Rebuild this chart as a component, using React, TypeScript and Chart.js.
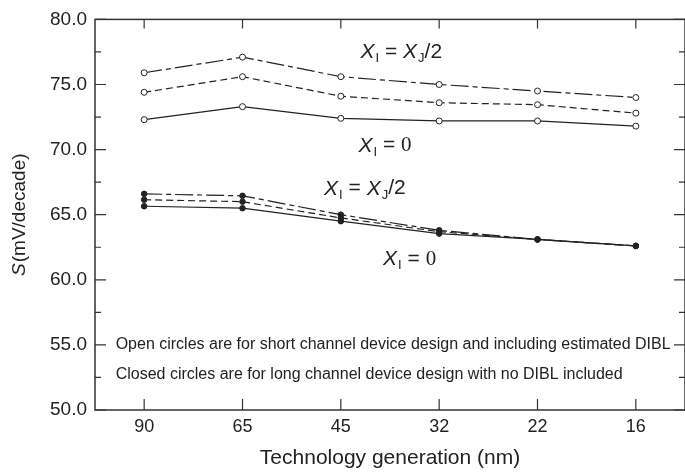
import React, { useEffect, useRef } from "react";
import { Chart, registerables } from "chart.js";

Chart.register(...registerables);

// Technology generations (nm) on the category axis
const generations = ["90", "65", "45", "32", "22", "16"];

// Short channel design, estimated DIBL included (open circles)
const shortHalf = [75.9, 77.1, 75.6, 75.0, 74.5, 74.0];
const shortQuarter = [74.4, 75.6, 74.1, 73.6, 73.45, 72.8];
const shortZero = [72.3, 73.3, 72.4, 72.2, 72.2, 71.8];

// Long channel design, no DIBL (closed circles)
const longHalf = [66.6, 66.45, 65.0, 63.8, 63.1, 62.6];
const longQuarter = [66.15, 66.0, 64.75, 63.7, 63.1, 62.6];
const longZero = [65.65, 65.5, 64.5, 63.55, 63.1, 62.6];

const yMin = 50;
const yMax = 80;
const yStep = 2.5;

const INK = "#222";
const SANS = "'Liberation Sans', Arial, Helvetica, sans-serif";
const SERIF = "'Liberation Serif', 'Times New Roman', serif";

const DASH_DOT = [18, 4, 5, 4];
const DASH = [7, 4];

type Part = { t: string; italic?: boolean; sub?: boolean; serif?: boolean };

const labelHalf: Part[] = [
  { t: "X", italic: true },
  { t: "I", sub: true },
  { t: " = " },
  { t: "X", italic: true },
  { t: "J", sub: true },
  { t: "/2" },
];
const labelZero: Part[] = [
  { t: "X", italic: true },
  { t: "I", sub: true },
  { t: " = " },
  { t: "0", serif: true },
];

// [category position, value, parts]
const curveLabels: [number, number, Part[]][] = [
  [2.2, 77.5, labelHalf],
  [2.18, 70.3, labelZero],
  [1.83, 67.0, labelHalf],
  [2.43, 61.55, labelZero],
];

const notes = [
  "Open circles are for short channel device design and including estimated DIBL",
  "Closed circles are for long channel device design with no DIBL included",
];
const noteY = [55.0, 52.75];

function drawRich(ctx: CanvasRenderingContext2D, x: number, y: number, parts: Part[], size: number) {
  let cx = x;
  ctx.textBaseline = "middle";
  ctx.textAlign = "left";
  for (const p of parts) {
    const s = p.sub ? Math.round(size * 0.62) : size;
    const fam = p.serif ? SERIF : SANS;
    ctx.font = `${p.italic ? "italic " : ""}${s}px ${fam}`;
    const dy = p.sub ? size * 0.3 : 0;
    ctx.fillText(p.t, cx, y + dy);
    cx += ctx.measureText(p.t).width + (p.italic ? 1 : 0);
  }
}

function richWidth(ctx: CanvasRenderingContext2D, parts: Part[], size: number) {
  let w = 0;
  for (const p of parts) {
    const s = p.sub ? Math.round(size * 0.62) : size;
    ctx.font = `${p.italic ? "italic " : ""}${s}px ${p.serif ? SERIF : SANS}`;
    w += ctx.measureText(p.t).width + (p.italic ? 1 : 0);
  }
  return w;
}

const framePlugin = {
  id: "frameTicks",
  beforeDatasetsDraw(chart: any) {
    const { ctx, chartArea: a, scales } = chart;
    const xs = scales.x;
    const ys = scales.y;
    ctx.save();
    ctx.strokeStyle = "#333";
    ctx.lineWidth = 1.5;
    ctx.strokeRect(a.left, a.top, a.right - a.left, a.bottom - a.top);
    ctx.lineWidth = 1.2;
    ctx.beginPath();
    ys.ticks.forEach((t: any) => {
      const py = ys.getPixelForValue(t.value);
      const tl = Number(t.value) % 5 === 0 ? 11 : 6;
      ctx.moveTo(a.left, py);
      ctx.lineTo(a.left + tl, py);
      ctx.moveTo(a.right, py);
      ctx.lineTo(a.right - tl, py);
    });
    generations.forEach((_, i) => {
      const px = xs.getPixelForValue(i);
      ctx.moveTo(px, a.top);
      ctx.lineTo(px, a.top + 9);
      ctx.moveTo(px, a.bottom);
      ctx.lineTo(px, a.bottom - 11);
    });
    ctx.stroke();
    ctx.restore();
  },
  afterDraw(chart: any) {
    const { ctx, chartArea: a, scales } = chart;
    const xs = scales.x;
    const ys = scales.y;
    ctx.save();
    ctx.fillStyle = INK;

    curveLabels.forEach(([cx, v, parts]) => {
      drawRich(ctx, xs.getPixelForValue(cx), ys.getPixelForValue(v), parts, 21);
    });

    ctx.font = `16px ${SANS}`;
    ctx.textBaseline = "middle";
    ctx.textAlign = "left";
    notes.forEach((n, i) => {
      ctx.fillText(n, xs.getPixelForValue(-0.29), ys.getPixelForValue(noteY[i]));
    });

    // rotated y-axis title with italic S
    ctx.translate(20, (a.top + a.bottom) / 2);
    ctx.rotate(-Math.PI / 2);
    const parts: Part[] = [{ t: "S", italic: true }, { t: "(mV/decade)" }];
    const w = richWidth(ctx, parts, 19);
    drawRich(ctx, -w / 2, 0, parts, 19);
    ctx.restore();
  },
};

function line(data: number[], dash: number[], open: boolean) {
  return {
    data,
    borderColor: INK,
    borderWidth: 1.2,
    borderDash: dash,
    pointRadius: open ? 3 : 2.8,
    pointBorderWidth: 1,
    pointBorderColor: INK,
    pointBackgroundColor: open ? "#fff" : INK,
    tension: 0,
  };
}

export default function App() {
  const ref = useRef<HTMLCanvasElement>(null);

  useEffect(() => {
    if (!ref.current) return;
    const chart = new Chart(ref.current, {
      type: "line",
      data: {
        labels: generations,
        datasets: [
          line(shortHalf, DASH_DOT, true),
          line(shortQuarter, DASH, true),
          line(shortZero, [], true),
          line(longHalf, DASH_DOT, false),
          line(longQuarter, DASH, false),
          line(longZero, [], false),
        ],
      },
      options: {
        responsive: false,
        animation: false,
        layout: { padding: { top: 15, right: 2.5, left: 0, bottom: 0 } },
        plugins: { legend: { display: false }, tooltip: { enabled: false } },
        scales: {
          x: {
            type: "category",
            offset: true,
            grid: { display: false, drawTicks: false },
            border: { display: false },
            ticks: { color: INK, font: { family: SANS, size: 18 }, padding: 6 },
            title: {
              display: true,
              text: "Technology generation (nm)",
              color: INK,
              font: { family: SANS, size: 21 },
              padding: { top: 0, bottom: 4 },
            },
            afterFit: (s: any) => {
              s.height = 65;
            },
          },
          y: {
            min: yMin,
            max: yMax,
            grid: { display: false, drawTicks: false },
            border: { display: false },
            ticks: {
              stepSize: yStep,
              color: INK,
              font: { family: SANS, size: 19 },
              padding: 8,
              callback: (v: any) => (Number(v) % 5 === 0 ? Number(v).toFixed(1) : ""),
            },
            afterFit: (s: any) => {
              s.width = 95;
            },
          },
        },
      },
      plugins: [framePlugin],
    } as any);
    return () => chart.destroy();
  }, []);

  // the canvas runs a few pixels past the visible box, so the right frame edge is clipped
  return (
    <div
      style={{
        position: "absolute",
        left: 0,
        top: 0,
        width: 685,
        height: 475,
        overflow: "hidden",
        background: "#fff",
      }}
    >
      <canvas ref={ref} width={690} height={475} />
    </div>
  );
}
